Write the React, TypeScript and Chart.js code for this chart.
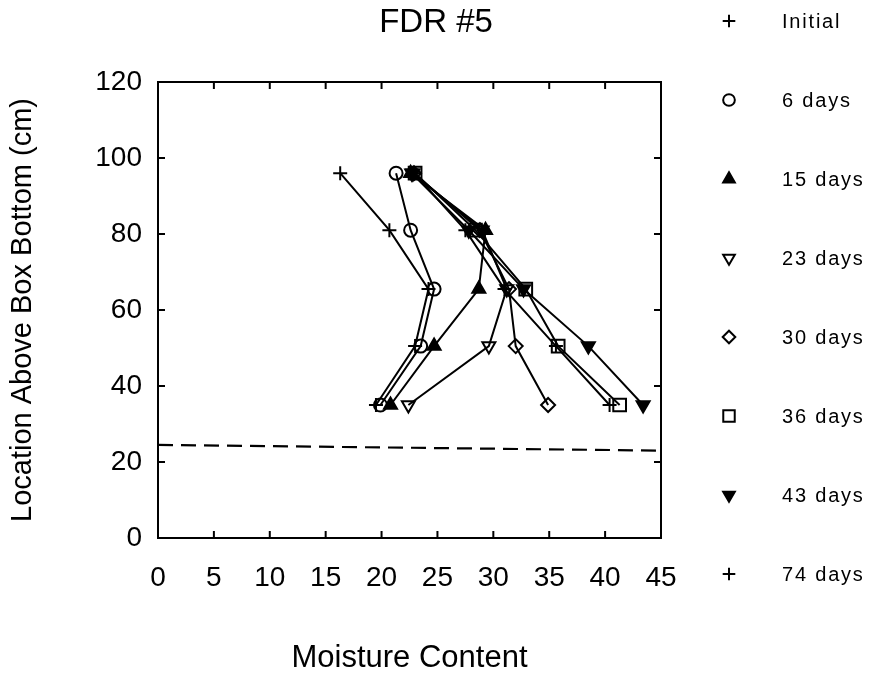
import React, { useEffect, useRef } from 'react';
import { Chart, registerables } from 'chart.js';
import { drawPoint } from 'chart.js/helpers';

Chart.register(...registerables);

// ---- data ----
const depths = [96, 81, 65.5, 50.5, 35];
const seriesLabels = ['Initial', '6 days', '15 days', '23 days', '30 days', '36 days', '43 days', '74 days'];
const initialMC = [16.3, 20.7, 24.2, 23.0, 19.5];
const day6MC = [21.3, 22.6, 24.7, 23.5, 19.9];
const day15MC = [22.6, 29.3, 28.7, 24.7, 20.8];
const day23MC = [22.8, 29.0, 31.2, 29.6, 22.4];
const day30MC = [22.9, 28.8, 31.4, 32.0, 34.9];
const day36MC = [23.0, 28.4, 32.9, 35.8, 41.3];
const day43MC = [22.7, 27.8, 32.7, 38.5, 43.4];
const day74MC = [22.9, 27.5, 31.0, 35.6, 40.4];
const waterX = [0, 45];
const waterY = [24.5, 23];

const seriesValues = [initialMC, day6MC, day15MC, day23MC, day30MC, day36MC, day43MC, day74MC];

// ---- marker styles ----
const FONT = '"Liberation Sans", Arial, Helvetica, sans-serif';
const NONE = 'rgba(0,0,0,0)';
const markers = [
  { pointStyle: 'cross', radius: 7, rotation: 0, fill: NONE },
  { pointStyle: 'circle', radius: 6.5, rotation: 0, fill: NONE },
  { pointStyle: 'triangle', radius: 7.5, rotation: 0, fill: '#000' },
  { pointStyle: 'triangle', radius: 7.5, rotation: 180, fill: NONE },
  { pointStyle: 'rectRot', radius: 7, rotation: 0, fill: NONE },
  { pointStyle: 'rect', radius: 9, rotation: 0, fill: NONE },
  { pointStyle: 'triangle', radius: 7.5, rotation: 180, fill: '#000' },
  { pointStyle: 'cross', radius: 7, rotation: 0, fill: NONE },
];

const framePlugin = {
  id: 'frameTicks',
  afterDraw(chart: any) {
    const { ctx, chartArea: a, scales } = chart;
    const x = scales.x;
    const y = scales.y;
    ctx.save();
    ctx.strokeStyle = '#000';
    ctx.lineWidth = 2;
    ctx.strokeRect(a.left, a.top, a.right - a.left, a.bottom - a.top);
    const L = 7;
    ctx.beginPath();
    x.ticks.forEach((t: any) => {
      const px = x.getPixelForValue(t.value);
      ctx.moveTo(px, a.bottom);
      ctx.lineTo(px, a.bottom - L);
      ctx.moveTo(px, a.top);
      ctx.lineTo(px, a.top + L);
    });
    y.ticks.forEach((t: any) => {
      const py = y.getPixelForValue(t.value);
      ctx.moveTo(a.left, py);
      ctx.lineTo(a.left + L, py);
      ctx.moveTo(a.right, py);
      ctx.lineTo(a.right - L, py);
    });
    ctx.stroke();
    ctx.restore();
  },
};

const sideLegendPlugin = {
  id: 'sideLegend',
  afterDraw(chart: any) {
    const { ctx, chartArea: a } = chart;
    ctx.save();
    ctx.strokeStyle = '#000';
    ctx.lineWidth = 2;
    const markerX = a.right + 68;
    const textX = a.right + 121;
    seriesLabels.forEach((label, i) => {
      const yy = 21 + i * 79;
      const m = markers[i];
      ctx.fillStyle = m.fill;
      drawPoint(ctx, { pointStyle: m.pointStyle as any, radius: m.radius * 0.9, rotation: m.rotation, borderWidth: 2 }, markerX, yy);
      ctx.fillStyle = '#000';
      ctx.font = `20px ${FONT}`;
      (ctx as any).letterSpacing = '1.8px';
      ctx.textAlign = 'left';
      ctx.textBaseline = 'middle';
      ctx.fillText(label, textX, yy + 1);
      (ctx as any).letterSpacing = '0px';
    });
    ctx.restore();
  },
};

export default function App() {
  const ref = useRef<HTMLCanvasElement | null>(null);

  useEffect(() => {
    if (!ref.current) return;
    const datasets: any[] = seriesValues.map((vals, i) => ({
      label: seriesLabels[i],
      data: vals.map((v, j) => ({ x: v, y: depths[j] })),
      showLine: true,
      borderColor: '#000',
      borderWidth: 2,
      tension: 0,
      pointStyle: markers[i].pointStyle,
      pointRadius: markers[i].radius,
      pointRotation: markers[i].rotation,
      pointBackgroundColor: markers[i].fill,
      pointBorderColor: '#000',
      pointBorderWidth: 2,
    }));
    datasets.push({
      label: 'water level',
      data: waterX.map((v, j) => ({ x: v, y: waterY[j] })),
      showLine: true,
      borderColor: '#000',
      borderWidth: 2.2,
      borderDash: [15, 8],
      pointRadius: 0,
    });

    const chart = new Chart(ref.current, {
      type: 'scatter',
      data: { datasets },
      options: {
        responsive: false,
        animation: false,
        devicePixelRatio: 1,
        layout: { padding: 0 },
        plugins: {
          legend: { display: false },
          tooltip: { enabled: false },
          title: {
            display: true,
            text: 'FDR #5',
            color: '#000',
            font: { family: FONT, size: 33, weight: 'normal' },
            padding: { top: 3, bottom: 39.4 },
          },
        },
        scales: {
          x: {
            type: 'linear',
            min: 0,
            max: 45,
            grid: { display: false, drawTicks: false },
            border: { display: false },
            ticks: { stepSize: 5, color: '#000', padding: 23, font: { family: FONT, size: 28 } },
            title: {
              display: true,
              text: 'Moisture Content',
              color: '#000',
              font: { family: FONT, size: 31 },
              padding: { top: 0, bottom: 0 },
            },
            afterFit: (s: any) => { s.height = 139; },
          },
          y: {
            type: 'linear',
            min: 0,
            max: 120,
            grid: { display: false, drawTicks: false },
            border: { display: false },
            ticks: { stepSize: 20, color: '#000', padding: 16, font: { family: FONT, size: 28 } },
            title: {
              display: true,
              text: 'Location Above Box Bottom (cm)',
              color: '#000',
              font: { family: FONT, size: 29 },
              padding: { top: 6, bottom: 0 },
            },
            afterFit: (s: any) => { s.width = 158; },
          },
          legendSpace: {
            type: 'linear',
            position: 'right',
            min: 0,
            max: 1,
            grid: { display: false, drawTicks: false },
            border: { display: false },
            ticks: { display: false },
            afterFit: (s: any) => { s.width = 211; },
          },
        },
      },
      plugins: [framePlugin, sideLegendPlugin],
    } as any);
    return () => chart.destroy();
  }, []);

  return (
    <div style={{ position: 'fixed', left: 0, top: 0, width: 872, height: 677, background: '#fff' }}>
      <canvas ref={ref} width={872} height={677} style={{ width: 872, height: 677, display: 'block' }} />
    </div>
  );
}
